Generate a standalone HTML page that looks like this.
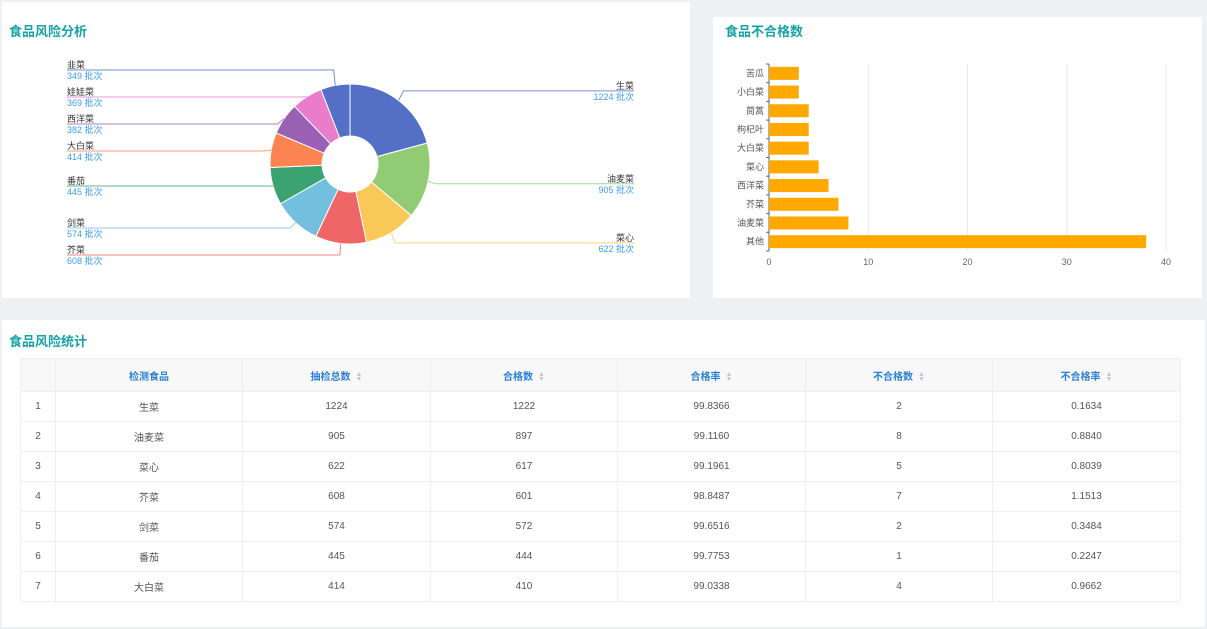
<!DOCTYPE html>
<html><head><meta charset="utf-8">
<style>
*{margin:0;padding:0;box-sizing:border-box}
body{width:1207px;height:629px;background:#eef0f4;font-family:"Liberation Sans","Noto Sans CJK SC",sans-serif;position:relative;overflow:hidden}
.panel{position:absolute;background:#fff}
.title{position:absolute;left:7px;font-size:13px;font-weight:bold;color:#17a2a8}
table{position:absolute;left:20px;top:358px;width:1160px;border-collapse:collapse;font-size:10px;color:#555}
td,th{border:1px solid #eceef2;text-align:center}
th{height:33px;background:#f8f8f9;color:#2b7fd6;font-weight:bold}
td{height:30px}
.s{color:#c5c8ce;font-size:8px;margin-left:5px}
</style></head><body>
<div class="panel" style="left:2px;top:2px;width:688px;height:296px">
<div class="title" style="top:19px">食品风险分析</div>
<svg id="pie" width="688" height="296" style="position:absolute;left:-2px;top:-2px"></svg>
</div>
<div class="panel" style="left:713px;top:17px;width:489px;height:281px">
<div class="title" style="top:4px;left:12px">食品不合格数</div>
<svg id="bar" width="489" height="281" style="position:absolute;left:0;top:0"></svg>
</div>
<div class="panel" style="left:2px;top:320px;width:1203px;height:307px">
<div class="title" style="top:11px">食品风险统计</div>
</div>
<table style="table-layout:fixed">
<colgroup><col style="width:35px"><col style="width:187px"><col style="width:188px"><col style="width:187px"><col style="width:188px"><col style="width:187px"><col style="width:188px"></colgroup>
<thead><tr>
<th></th>
<th>检测食品</th>
<th>抽检总数<span class="s">▲▼</span></th>
<th>合格数<span class="s">▲▼</span></th>
<th>合格率<span class="s">▲▼</span></th>
<th>不合格数<span class="s">▲▼</span></th>
<th>不合格率<span class="s">▲▼</span></th>
</tr></thead>
<tbody id="tb"></tbody>
</table>
<script>
document.querySelectorAll('.s').forEach(function(s){s.style.fontSize='7px';s.style.letterSpacing='-7px';s.style.display='inline-block';s.style.lineHeight='5px';s.style.verticalAlign='middle';s.innerHTML='▲<br>▼';s.style.letterSpacing='0';});
// pie data
const pieNames=['生菜','油麦菜','菜心','芥菜','剑菜','番茄','大白菜','西洋菜','娃娃菜','韭菜'];
const pieValues=[1224,905,622,608,574,445,414,382,369,349];
const pieColors=['#5470c6','#91cc75','#fac858','#ee6666','#73c0de','#3ba272','#fc8452','#9a60b4','#ea7ccc','#5470c6'];
// bar data
const barCats=['苦瓜','小白菜','茼蒿','枸杞叶','大白菜','菜心','西洋菜','芥菜','油麦菜','其他'];
const barValues=[3,3,4,4,4,5,6,7,8,38];
const barTicks=[0,10,20,30,40];
// table data
const tFood=['生菜','油麦菜','菜心','芥菜','剑菜','番茄','大白菜'];
const tTotal=[1224,905,622,608,574,445,414];
const tPass=[1222,897,617,601,572,444,410];
const tRate=['99.8366','99.1160','99.1961','98.8487','99.6516','99.7753','99.0338'];
const tFail=[2,8,5,7,2,1,4];
const tFailRate=['0.1634','0.8840','0.8039','1.1513','0.3484','0.2247','0.9662'];

const NS='http://www.w3.org/2000/svg';
function mk(p,t,a){const e=document.createElementNS(NS,t);for(const k in a)e.setAttribute(k,a[k]);p.appendChild(e);return e;}

// pie
(function(){
const svg=document.getElementById('pie');
const cx=350,cy=164,R=80,r=28;
const sum=pieValues.reduce((a,b)=>a+b,0);
let a0=0;const labs=[];
pieValues.forEach((v,i)=>{
 const a1=a0+v/sum*Math.PI*2;
 const p=(a,rr)=>[cx+rr*Math.sin(a),cy-rr*Math.cos(a)];
 const [x1,y1]=p(a0,R),[x2,y2]=p(a1,R),[x3,y3]=p(a1,r),[x4,y4]=p(a0,r);
 const lg=(a1-a0)>Math.PI?1:0;
 const s=mk(svg,'path',{d:`M${x1},${y1}A${R},${R} 0 ${lg} 1 ${x2},${y2}L${x3},${y3}A${r},${r} 0 ${lg} 0 ${x4},${y4}Z`,fill:pieColors[i],stroke:'#fff','stroke-width':1});
 
 
 const m=(a0+a1)/2;
 labs.push({i,m,side:Math.sin(m)>=0?1:-1,y:cy-(R+12)*Math.cos(m)});
 a0=a1;
});
['1','-1'].forEach(sd=>{
 const L=labs.filter(l=>l.side==+sd).sort((a,b)=>a.y-b.y);
 for(let k=1;k<L.length;k++)if(L[k].y-L[k-1].y<27)L[k].y=L[k-1].y+27;
 const last=L[L.length-1];
 if(last&&last.y>255){const sh=last.y-255;L.forEach(l=>l.y-=sh);for(let k=L.length-2;k>=0;k--)if(L[k+1].y-L[k].y<27)L[k].y=L[k+1].y-27;}
});
labs.forEach(l=>{
 const sx=cx+R*Math.sin(l.m),sy=cy-R*Math.cos(l.m);
 const ex=cx+(R+8)*Math.sin(l.m),ey=l.y;
 const tx=l.side>0?634:67;
 const ln=mk(svg,'polyline',{points:`${sx},${sy} ${ex},${ey} ${tx},${ey}`,fill:'none',stroke:pieColors[l.i],'stroke-width':1,opacity:0.8});
 
 
 const anc=l.side>0?'end':'start';
 const t1=mk(svg,'text',{x:tx,y:ey-2,'text-anchor':anc,'font-size':9,fill:'#333'});t1.textContent=pieNames[l.i];
 
 
 const t2=mk(svg,'text',{x:tx,y:ey+9,'text-anchor':anc,'font-size':9,fill:'#3a9ff5'});t2.textContent=pieValues[l.i]+' 批次';
 
 
});
})();

// bar
(function(){
const svg=document.getElementById('bar');
const x0=56,x1=453,yTop=47,yBot=234,max=40;
const X=v=>x0+v/max*(x1-x0);
const band=(yBot-yTop)/barCats.length;
barTicks.forEach(t=>{
 if(t>0){const g=mk(svg,'line',{x1:X(t),x2:X(t),y1:yTop,y2:yBot,stroke:'#e6e8f0'});}
 const tx=mk(svg,'text',{x:X(t),y:yBot+14,'text-anchor':'middle','font-size':9,fill:'#666'});tx.textContent=t;
 
 
});
const ax=mk(svg,'line',{x1:x0,x2:x0,y1:yTop,y2:yBot,stroke:'#666'});


barCats.forEach((c,i)=>{
 const y=yTop+i*band;
 const tk=mk(svg,'line',{x1:x0-3,x2:x0,y1:y,y2:y,stroke:'#666'});
 const b=mk(svg,'rect',{x:x0,y:y+band/2-6.5,width:X(barValues[i])-x0,height:13,fill:'#ffa800'});
 
 
 const t=mk(svg,'text',{x:x0-5,y:y+band/2+3,'text-anchor':'end','font-size':9,fill:'#555'});t.textContent=c;
 
 
});
const tk=mk(svg,'line',{x1:x0-3,x2:x0,y1:yBot,y2:yBot,stroke:'#666'});
})();

// table
(function(){
const tb=document.getElementById('tb');
tFood.forEach((f,i)=>{
 const tr=document.createElement('tr');
 
 
 [i+1,f,tTotal[i],tPass[i],tRate[i],tFail[i],tFailRate[i]].forEach(v=>{const td=document.createElement('td');td.textContent=v;tr.appendChild(td);});
 tb.appendChild(tr);
});
})();
</script>
</body></html>
